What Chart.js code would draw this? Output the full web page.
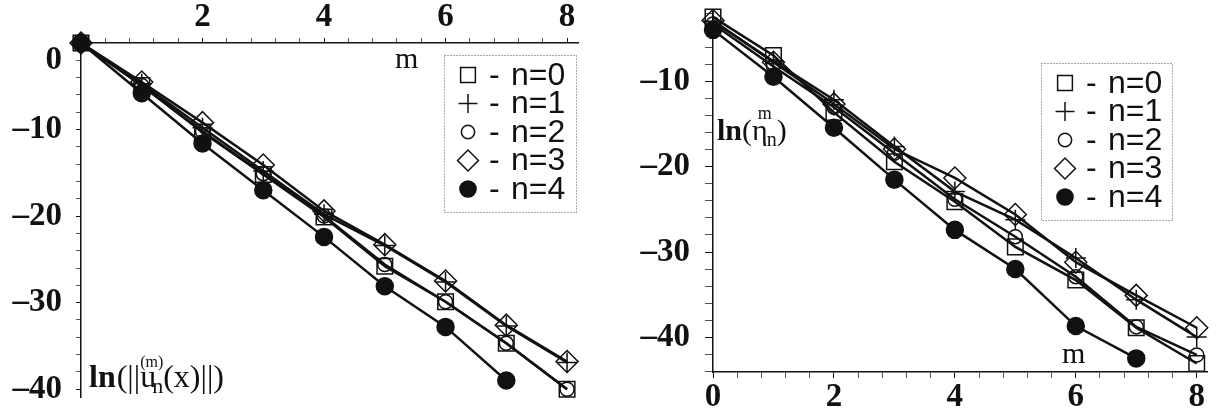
<!DOCTYPE html>
<html lang="en">
<head>
  <meta charset="UTF-8">
  <title>ln norms vs m</title>
  <script src="https://cdn.jsdelivr.net/npm/chart.js@4.4.1/dist/chart.umd.min.js"></script>
  <style>
    * { margin: 0; padding: 0; box-sizing: border-box; }
    body { background: #fff; }
    .wrap { position: relative; width: 1217px; height: 418px; }
    .panel { position: absolute; top: 0; height: 418px; }
    #left { left: 0; width: 600px; }
    #right { left: 600px; width: 617px; }
  </style>
</head>
<body>
  <div class="wrap">
    <div class="panel" id="left"><canvas id="normChart"></canvas></div>
    <div class="panel" id="right"><canvas id="etaChart"></canvas></div>
  </div>

  <script>
    // data
    const mValues = [0, 1, 2, 3, 4, 5, 6, 7, 8];
    const seriesNames = ['n=0', 'n=1', 'n=2', 'n=3', 'n=4'];

    // left panel: ln(||u_n^(m)(x)||)
    const normN0 = [0, -4.9, -10.3, -15.2, -20.1, -25.8, -29.9, -34.7, -40.0];
    const normN1 = [0, -4.7, -9.8, -14.8, -19.8, -23.4, -27.6, -32.7, -36.9];
    const normN2 = [0, -4.9, -10.2, -15.1, -20.0, -25.6, -29.9, -34.7, -40.0];
    const normN3 = [0, -4.5, -9.2, -14.1, -19.4, -23.3, -27.5, -32.6, -36.8];
    const normN4 = [0, -5.8, -11.6, -17.0, -22.4, -28.1, -32.8, -39.0];

    // right panel: ln(eta_n^m)
    const etaN0 = [-2.4, -6.9, -13.6, -19.4, -24.1, -29.4, -33.3, -38.9, -43.1];
    const etaN1 = [-2.9, -7.6, -12.1, -17.6, -22.9, -26.2, -30.7, -35.6, -40.0];
    const etaN2 = [-3.2, -8.2, -13.0, -18.4, -23.8, -28.2, -32.9, -38.8, -42.1];
    const etaN3 = [-2.8, -7.7, -12.6, -17.9, -21.3, -25.6, -31.2, -35.1, -38.9];
    const etaN4 = [-3.9, -9.4, -15.4, -21.5, -27.4, -32.0, -38.7, -42.5];

    // tick labels
    const normXLabels = [2, 4, 6, 8];
    const normYLabels = [-10, -20, -30, -40];
    const etaXLabels = [0, 2, 4, 6, 8];
    const etaYLabels = [-10, -20, -30, -40];

    const serif = '"Liberation Serif", "Times New Roman", serif';
    const sans = '"Liberation Sans", Arial, sans-serif';
    const ink = '#111';

    const markers = [
      { pointStyle: 'rect', radius: 11, fill: false },
      { pointStyle: 'cross', radius: 10, fill: false },
      { pointStyle: 'circle', radius: 7, fill: false },
      { pointStyle: 'rectRot', radius: 11, fill: false },
      { pointStyle: 'circle', radius: 8.5, fill: true }
    ];

    function range(from, to, step) {
      const out = [];
      const n = Math.round((to - from) / step);
      for (let i = 0; i <= n; i++) out.push(+(from + i * step).toFixed(4));
      return out;
    }

    function fmt(v) {
      return v < 0 ? '\u2013' + (-v) : String(v);
    }

    function labelFor(list) {
      return function (v) {
        return list.some(l => Math.abs(l - v) < 1e-6) ? fmt(v) : '';
      };
    }

    function isMajor(list) {
      return function (c) {
        const v = c.tick ? c.tick.value : 0;
        return list.some(l => Math.abs(l - v) < 1e-6) ? ink : '#555';
      };
    }

    // fixed axis thickness, no extra room for overhanging labels
    function fixSize(prop, size) {
      return function (s) {
        s[prop] = size;
        s.paddingTop = 0; s.paddingBottom = 0; s.paddingLeft = 0; s.paddingRight = 0;
      };
    }

    function makeSets(arrays) {
      return arrays.map((arr, k) => ({
        label: seriesNames[k],
        data: arr.map((y, i) => ({ x: mValues[i], y: y })),
        showLine: true,
        borderColor: ink,
        borderWidth: 2.5,
        pointStyle: markers[k].pointStyle,
        pointRadius: markers[k].radius,
        pointHoverRadius: markers[k].radius,
        pointBorderWidth: 1.5,
        pointBorderColor: ink,
        pointBackgroundColor: markers[k].fill ? ink : 'rgba(0,0,0,0)',
        clip: false
      }));
    }

    // draws a run of text pieces; pieces with adv:false don't move the pen
    function drawPieces(ctx, x, y, pieces) {
      let cx = x;
      pieces.forEach(p => {
        ctx.font = p.f;
        const px = cx + (p.dx || 0);
        ctx.fillText(p.t, px, y + (p.dy || 0));
        if (p.adv !== false) cx = px + ctx.measureText(p.t).width;
      });
    }

    const annotPlugin = {
      id: 'annot',
      afterDraw(chart, args, opts) {
        const ctx = chart.ctx;
        ctx.save();
        ctx.fillStyle = ink;
        ctx.textAlign = 'left';
        ctx.textBaseline = 'alphabetic';
        (opts.items || []).forEach(it => drawPieces(ctx, it.x, it.y, it.pieces));

        (opts.extraTicks || []).forEach(t => {
          ctx.font = 'bold 33px ' + serif;
          ctx.textAlign = 'right';
          ctx.textBaseline = 'middle';
          ctx.fillText(t.text, t.x, t.y);
        });

        const lg = opts.legend;
        if (lg) {
          ctx.setLineDash([1, 2]);
          ctx.strokeStyle = '#555';
          ctx.lineWidth = 1;
          ctx.strokeRect(lg.x + 0.5, lg.y + 0.5, lg.w, lg.h);
          ctx.setLineDash([]);
          chart.data.datasets.forEach((ds, k) => {
            const cy = lg.y + 20 + k * 28.5;
            const mk = markers[k];
            ctx.strokeStyle = ink;
            ctx.fillStyle = mk.fill ? ink : 'rgba(0,0,0,0)';
            ctx.lineWidth = 1.5;
            Chart.helpers.drawPoint(ctx, { pointStyle: mk.pointStyle, radius: mk.radius * 0.95, borderWidth: 1.5, rotation: 0 }, lg.x + 24, cy);
            ctx.fillStyle = ink;
            ctx.font = '32px ' + sans;
            ctx.textAlign = 'left';
            ctx.textBaseline = 'middle';
            ctx.fillText('-', lg.x + 45, cy + 1);
            ctx.fillText(ds.label, lg.x + 67, cy + 1);
          });
        }
        ctx.restore();
      }
    };

    // left panel
    new Chart(document.getElementById('normChart'), {
      type: 'scatter',
      data: { datasets: makeSets([normN0, normN1, normN2, normN3, normN4]) },
      plugins: [annotPlugin],
      options: {
        responsive: true,
        maintainAspectRatio: false,
        animation: false,
        layout: { autoPadding: false, padding: { left: 0, top: 0, right: 22, bottom: 21 } },
        plugins: {
          legend: { display: false },
          tooltip: { enabled: false },
          annot: {
            extraTicks: [{ text: '0', x: 62, y: 60 }],
            legend: { x: 444, y: 55, w: 132, h: 157 },
            items: [
              { x: 395, y: 68, pieces: [{ t: 'm', f: '30px ' + serif }] },
              { x: 89, y: 387, pieces: [
                { t: 'ln', f: 'bold 32px ' + serif },
                { t: '(||u', f: '32px ' + serif, dx: 1 },
                { t: '(m)', f: '16px ' + serif, dx: -16, dy: -20, adv: false },
                { t: 'n', f: '22px ' + serif, dx: -4, dy: 6 },
                { t: '(x)||)', f: '32px ' + serif }
              ] }
            ]
          }
        },
        scales: {
          x: {
            type: 'linear',
            position: 'top',
            min: 0,
            max: 8.18,
            afterBuildTicks: s => { s.ticks = range(0, 8, 0.4).map(v => ({ value: v })); },
            afterFit: fixSize('height', 43),
            ticks: {
              callback: labelFor(normXLabels),
              autoSkip: false,
              maxRotation: 0,
              padding: 1,
              color: ink,
              font: { family: serif, size: 33, weight: 'bold' }
            },
            grid: { drawOnChartArea: false, tickLength: 5, tickColor: isMajor(normXLabels) },
            border: { color: ink, width: 1.5 }
          },
          y: {
            type: 'linear',
            position: 'left',
            min: -40.9,
            max: 0,
            afterBuildTicks: s => { s.ticks = range(-40, 0, 2).map(v => ({ value: v })); },
            afterFit: fixSize('width', 81),
            ticks: {
              callback: labelFor(normYLabels),
              autoSkip: false,
              padding: 14,
              color: ink,
              font: { family: serif, size: 33, weight: 'bold' }
            },
            grid: { drawOnChartArea: false, tickLength: 5, tickColor: isMajor(normYLabels) },
            border: { color: ink, width: 1.5 }
          }
        }
      }
    });

    // right panel
    new Chart(document.getElementById('etaChart'), {
      type: 'scatter',
      data: { datasets: makeSets([etaN0, etaN1, etaN2, etaN3, etaN4]) },
      plugins: [annotPlugin],
      options: {
        responsive: true,
        maintainAspectRatio: false,
        animation: false,
        layout: { autoPadding: false, padding: { left: 0, top: 12, right: 10, bottom: 0 } },
        plugins: {
          legend: { display: false },
          tooltip: { enabled: false },
          annot: {
            legend: { x: 441, y: 63, w: 131, h: 157 },
            items: [
              { x: 462, y: 363, pieces: [{ t: 'm', f: '30px ' + serif }] },
              { x: 117, y: 140, pieces: [
                { t: 'ln', f: 'bold 30px ' + serif },
                { t: '(', f: '30px ' + serif },
                { t: '\u03b7', f: '30px ' + serif },
                { t: 'm', f: '18px ' + serif, dx: -10, dy: -21, adv: false },
                { t: 'n', f: '20px ' + serif, dx: -1, dy: 6 },
                { t: ')', f: '30px ' + serif }
              ] }
            ]
          }
        },
        scales: {
          x: {
            type: 'linear',
            position: 'bottom',
            min: 0,
            max: 8.17,
            afterBuildTicks: s => { s.ticks = range(0, 8, 0.4).map(v => ({ value: v })); },
            afterFit: fixSize('height', 46),
            ticks: {
              callback: labelFor(etaXLabels),
              autoSkip: false,
              maxRotation: 0,
              padding: 0,
              color: ink,
              font: { family: serif, size: 33, weight: 'bold' }
            },
            grid: { drawOnChartArea: false, tickLength: 6, tickColor: isMajor(etaXLabels) },
            border: { color: ink, width: 1.5 }
          },
          y: {
            type: 'linear',
            position: 'left',
            min: -44.1,
            max: -1.8,
            afterBuildTicks: s => { s.ticks = range(-44, -2, 2).map(v => ({ value: v })); },
            afterFit: fixSize('width', 113),
            ticks: {
              callback: labelFor(etaYLabels),
              autoSkip: false,
              padding: 15,
              color: ink,
              font: { family: serif, size: 33, weight: 'bold' }
            },
            grid: { drawOnChartArea: false, tickLength: 8, tickColor: isMajor(etaYLabels) },
            border: { color: ink, width: 1.5 }
          }
        }
      }
    });
  </script>
</body>
</html>
